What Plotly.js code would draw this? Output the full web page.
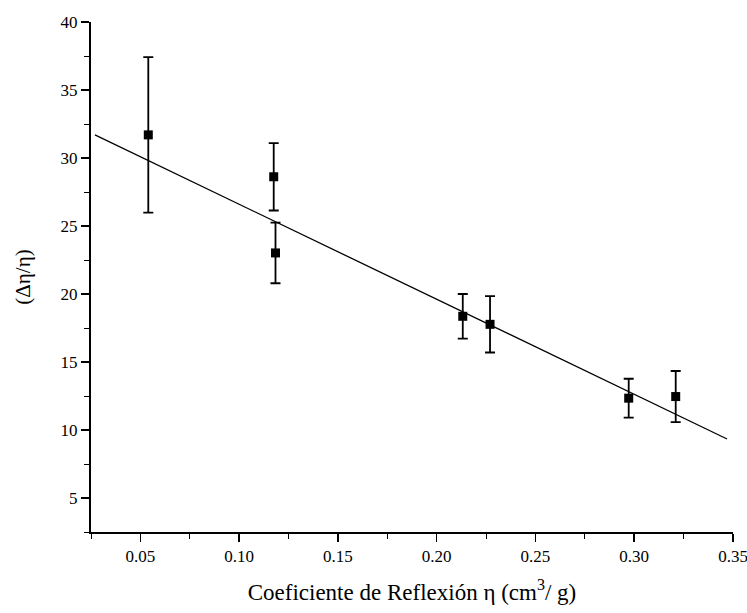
<!DOCTYPE html>
<html>
<head>
<meta charset="utf-8">
<script src="https://cdn.plot.ly/plotly-3.0.1.min.js"></script>
<style>html,body{margin:0;padding:0;background:#fff;}#chart{width:747px;height:613px;}</style>
</head>
<body>
<div id="chart"></div>
<script>
// Data
const xData = [0.054, 0.1175, 0.1184, 0.2132, 0.227, 0.2972, 0.321];
const yData = [31.7, 28.62, 23.02, 18.36, 17.77, 12.34, 12.46];
const yErr  = [5.72, 2.48, 2.23, 1.64, 2.07, 1.43, 1.88];
// Linear fit endpoints as drawn
const fitX = [0.027, 0.347];
const fitY = [31.7, 9.34];
const xTickVals = [0.05, 0.10, 0.15, 0.20, 0.25, 0.30, 0.35];
const xTickText = ['0.05', '0.10', '0.15', '0.20', '0.25', '0.30', '0.35'];
const yTickVals = [5, 10, 15, 20, 25, 30, 35, 40];

const serif = "Liberation Serif, DejaVu Serif, serif";

const traces = [
  {
    x: fitX, y: fitY, type: 'scatter', mode: 'lines',
    line: {color: '#000', width: 1.3}, hoverinfo: 'skip', showlegend: false
  },
  {
    x: xData, y: yData, type: 'scatter', mode: 'markers',
    marker: {symbol: 'square', size: 9, color: '#000'},
    error_y: {type: 'data', array: yErr, visible: true, color: '#000', thickness: 1.8, width: 5},
    showlegend: false
  }
];

const layout = {
  width: 747, height: 613,
  margin: {l: 91, r: 14, t: 22, b: 81},
  paper_bgcolor: '#fff', plot_bgcolor: '#fff',
  font: {family: serif, color: '#000', size: 17},
  xaxis: {
    range: [0.025, 0.35], showgrid: false, zeroline: false,
    showline: true, linecolor: '#000', linewidth: 2,
    ticks: 'outside', ticklen: 8, tickwidth: 1.5, tickcolor: '#000',
    tickvals: xTickVals, ticktext: xTickText, ticklabeloverflow: 'allow',
    tickfont: {family: serif, size: 17, color: '#000'},
    minor: {dtick: 0.025, tick0: 0, ticks: 'outside', ticklen: 5, tickwidth: 1, tickcolor: '#000', showgrid: false},
    title: {text: 'Coeficiente de Reflexión η (cm<sup>3</sup>/ g)', font: {family: serif, size: 23, color: '#000'}, standoff: 18}
  },
  yaxis: {
    range: [2.5, 40], showgrid: false, zeroline: false,
    showline: true, linecolor: '#000', linewidth: 2,
    ticks: 'outside', ticklen: 8, tickwidth: 1.5, tickcolor: '#000',
    tickvals: yTickVals, ticklabeloverflow: 'allow',
    tickfont: {family: serif, size: 17, color: '#000'},
    minor: {dtick: 2.5, tick0: 0, ticks: 'outside', ticklen: 5, tickwidth: 1, tickcolor: '#000', showgrid: false},
    title: {text: '(Δη/η)', font: {family: serif, size: 21, color: '#000'}, standoff: 24}
  }
};

Plotly.newPlot('chart', traces, layout, {displayModeBar: false, staticPlot: true});
</script>
</body>
</html>
